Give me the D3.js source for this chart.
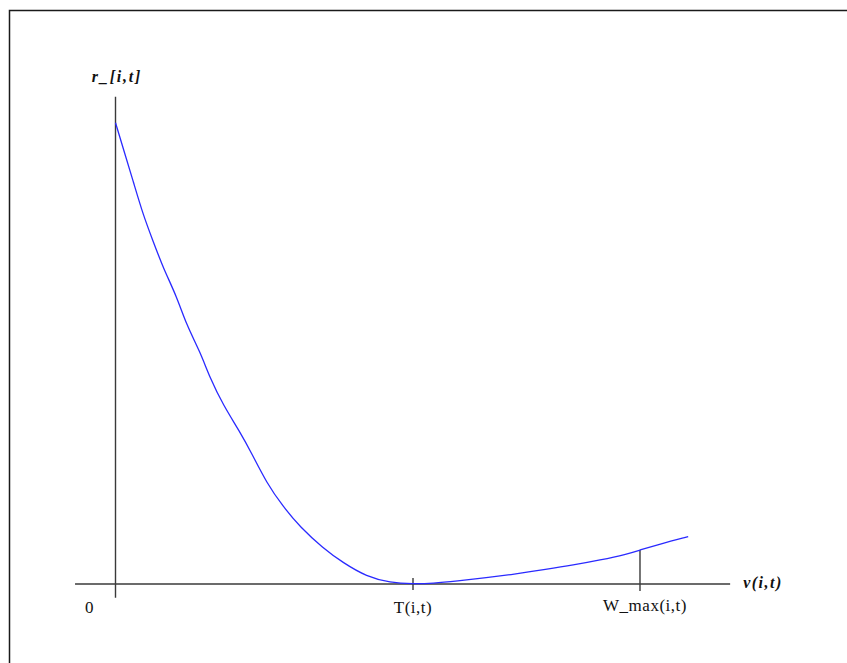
<!DOCTYPE html>
<html>
<head>
<meta charset="utf-8">
<script src="https://cdn.jsdelivr.net/npm/d3@7"></script>
<style>
  body { margin: 0; background: #fff; }
  svg text { font-family: "Liberation Serif", "Times New Roman", serif; fill: #111; }
</style>
</head>
<body>
<div id="chart"></div>
<script>
//----------------------------DATA-----------------------------//
// curve r_[i,t] against v(i,t) (T = 10)
var vValues = [0, 0.26, 0.60, 0.93, 1.27, 1.61, 2.06, 2.39, 2.84, 3.18, 3.62, 4.18, 4.58, 5.08, 5.63, 6.20,
               6.97, 7.65, 8.44, 9.23, 10,
               10.67, 11.47, 12.48, 13.36, 14.49, 15.38, 16.29, 17.18, 17.63, 18.30, 19.25];
var rValues = [100, 94.4, 87.2, 80.0, 74.2, 68.4, 62.3, 56.1, 50.4, 44.6, 38.8, 33.0, 28.3, 21.9, 16.8, 12.4,
               7.8, 4.6, 1.6, 0.3, 0,
               0.15, 0.65, 1.37, 2.1, 3.19, 4.1, 5.20, 6.44, 7.37, 8.67, 10.26];

var tickValues = [0, 10, 17.63];
var tickLabels = ["0", "T(i,t)", "W_max(i,t)"];
var wMaxValue = 7.37;

var xAxisExtent = [-1.36, 20.66];
var yAxisExtent = [-3.0, 105.6];

var xTitle = "v(i,t)";
var yTitle = "r_[i,t]";

//----------------------------SVG------------------------------//
var width = 847, height = 663;

var svg = d3.select("#chart").append("svg")
    .attr("width", width)
    .attr("height", height);

// frame (top and left edges only)
svg.append("path")
    .attr("d", "M9.5,663V10.5H847")
    .attr("fill", "none")
    .attr("stroke", "#1a1a1a")
    .attr("stroke-width", 1.5);

//---------------------------SCALES----------------------------//
var xScale = d3.scaleLinear().domain([0, 10]).range([115.5, 413]);
var yScale = d3.scaleLinear().domain([0, 100]).range([584, 122.7]);

//----------------------------AXES-----------------------------//
var axisColor = "#3a3a3a";

// x axis
svg.append("line")
    .attr("x1", xScale(xAxisExtent[0])).attr("x2", xScale(xAxisExtent[1]))
    .attr("y1", yScale(0)).attr("y2", yScale(0))
    .attr("stroke", axisColor).attr("stroke-width", 1.4);

// y axis
svg.append("line")
    .attr("x1", xScale(0)).attr("x2", xScale(0))
    .attr("y1", yScale(yAxisExtent[0])).attr("y2", yScale(yAxisExtent[1]))
    .attr("stroke", axisColor).attr("stroke-width", 1.4);

// tick at T
svg.append("line")
    .attr("x1", xScale(tickValues[1])).attr("x2", xScale(tickValues[1]))
    .attr("y1", yScale(1.3)).attr("y2", yScale(-1.3))
    .attr("stroke", axisColor).attr("stroke-width", 1.4);

// W_max marker up to the curve
svg.append("line")
    .attr("x1", xScale(tickValues[2])).attr("x2", xScale(tickValues[2]))
    .attr("y1", yScale(wMaxValue)).attr("y2", yScale(-1.5))
    .attr("stroke", axisColor).attr("stroke-width", 1.4);

// tick labels
svg.selectAll(".tick-label")
    .data(tickValues)
    .enter()
    .append("text")
    .attr("class", "tick-label")
    .attr("x", function(d, i) { return i == 0 ? xScale(d) - 26 : xScale(d) + (i == 2 ? 5 : 0); })
    .attr("y", function(d, i) { return i == 2 ? 611 : 613; })
    .attr("text-anchor", "middle")
    .style("font-size", "17px")
    .style("letter-spacing", "0.5px")
    .text(function(d, i) { return tickLabels[i]; });

// axis titles
svg.append("text")
    .attr("x", 763).attr("y", 588)
    .attr("text-anchor", "middle")
    .style("font-size", "16px")
    .style("font-style", "italic")
    .style("font-weight", "bold")
    .style("letter-spacing", "1.5px")
    .text(xTitle);

svg.append("text")
    .attr("x", 117).attr("y", 82)
    .attr("text-anchor", "middle")
    .style("font-size", "16px")
    .style("font-style", "italic")
    .style("font-weight", "bold")
    .style("letter-spacing", "1.8px")
    .text(yTitle);

//----------------------------CURVE----------------------------//
var points = vValues.map(function(v, i) { return { v: v, r: rValues[i] }; });

var line = d3.line()
    .x(function(d) { return xScale(d.v); })
    .y(function(d) { return yScale(d.r); })
    .curve(d3.curveBasis);

svg.append("path")
    .datum(points)
    .attr("d", line)
    .attr("fill", "none")
    .attr("stroke", "#2a2aff")
    .attr("stroke-width", 1.3);
</script>
</body>
</html>
